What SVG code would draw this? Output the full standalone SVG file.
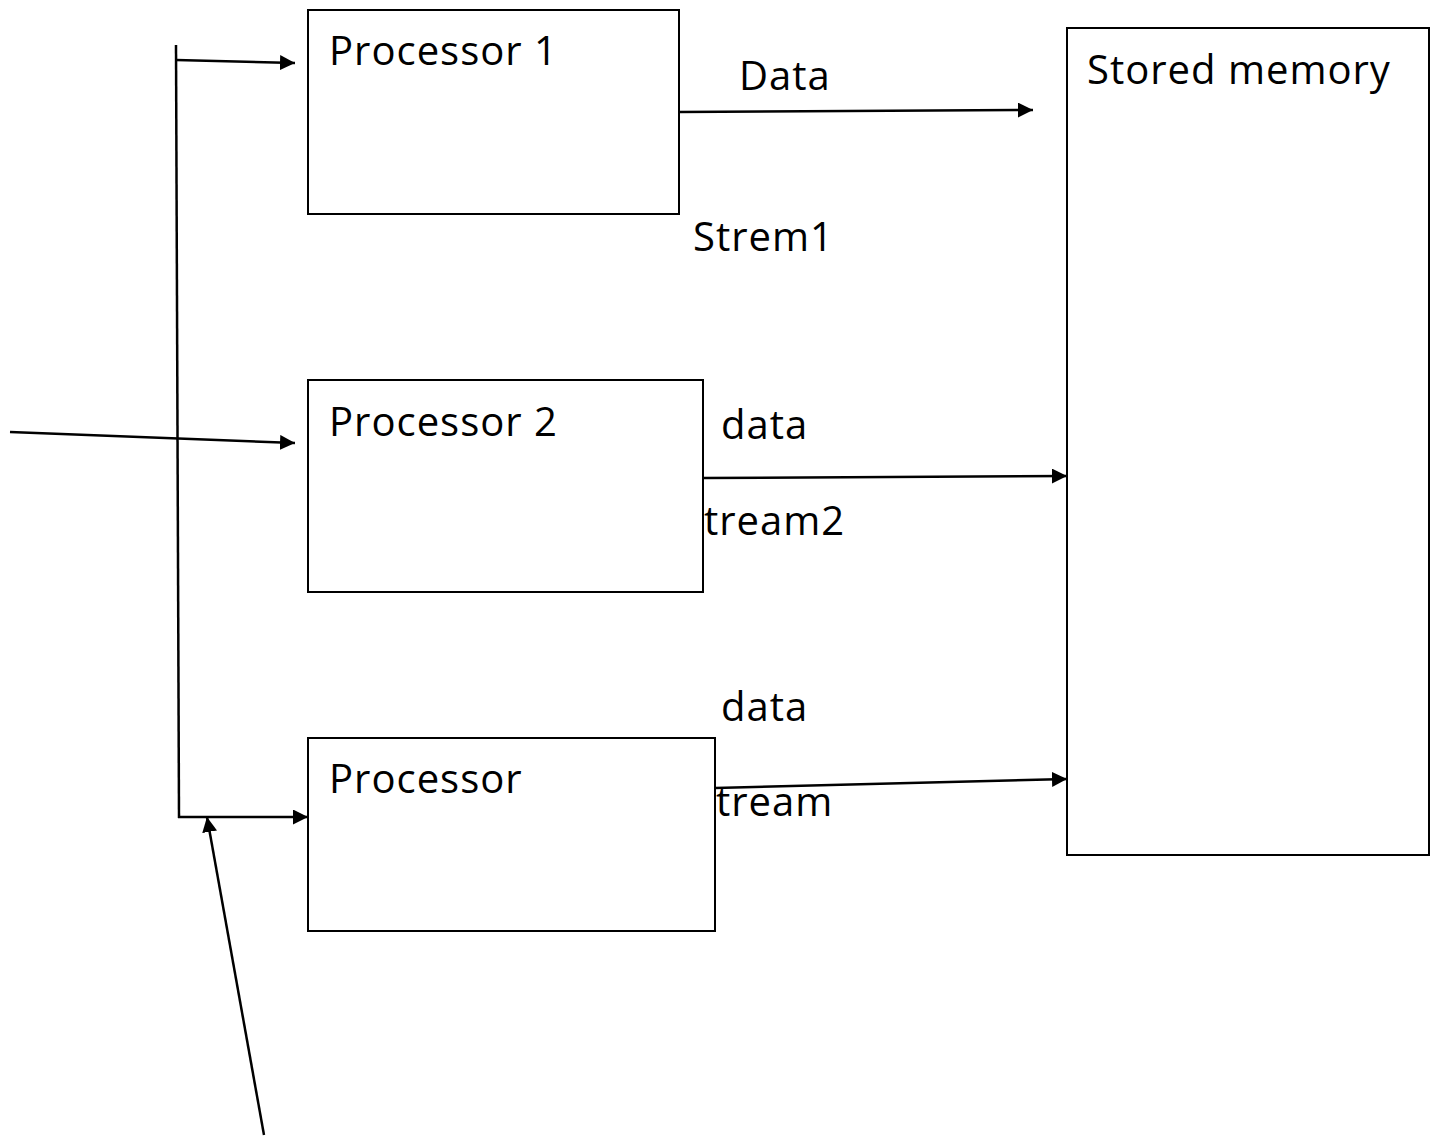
<svg xmlns="http://www.w3.org/2000/svg" width="1433" height="1138" viewBox="0 0 1433 1138">
<style>
.box{fill:#fff;stroke:#000;stroke-width:2}
.ln{fill:none;stroke:#000;stroke-width:2.5}
text{font-family:"Open Sans","Noto Sans",sans-serif;font-size:40px;letter-spacing:1px;fill:#000}
</style>
<defs>
<marker id="ah" viewBox="0 0 10 10" refX="10" refY="5" markerWidth="6" markerHeight="6" markerUnits="strokeWidth" orient="auto">
<path d="M0,0 L10,5 L0,10 Z" fill="#000"/>
</marker>
</defs>
<rect width="1433" height="1138" fill="#fff"/>
<g id="p1"><rect class="box" x="308" y="10" width="371" height="204"/><text x="329" y="65">Processor 1</text></g>
<g id="p2"><rect class="box" x="308" y="380" width="395" height="212"/><text x="329" y="436">Processor 2</text></g>
<g id="p3"><rect class="box" x="308" y="738" width="407" height="193"/><text x="329" y="793">Processor</text></g>
<g id="mem"><rect class="box" x="1067" y="28" width="362" height="827"/><text x="1087" y="84">Stored memory</text></g>
<g id="connectors">
<line class="ln" x1="176" y1="45" x2="179" y2="818"/>
<line class="ln" x1="176" y1="60" x2="295" y2="63" marker-end="url(#ah)"/>
<line class="ln" x1="10" y1="432" x2="295" y2="443" marker-end="url(#ah)"/>
<line class="ln" x1="178" y1="817" x2="308" y2="817" marker-end="url(#ah)"/>
<line class="ln" x1="264" y1="1135" x2="207" y2="817" marker-end="url(#ah)"/>
<line class="ln" x1="679" y1="112" x2="1033" y2="110" marker-end="url(#ah)"/>
<line class="ln" x1="703" y1="478" x2="1067" y2="476" marker-end="url(#ah)"/>
<line class="ln" x1="715" y1="788" x2="1067" y2="779" marker-end="url(#ah)"/>
</g>
<g id="labels">
<text x="739" y="90">Data</text>
<text x="693" y="251">Strem1</text>
<text x="721" y="439">data</text>
<text x="704" y="535">tream2</text>
<text x="721" y="721">data</text>
<text x="716" y="816">tream</text>
</g>
</svg>
